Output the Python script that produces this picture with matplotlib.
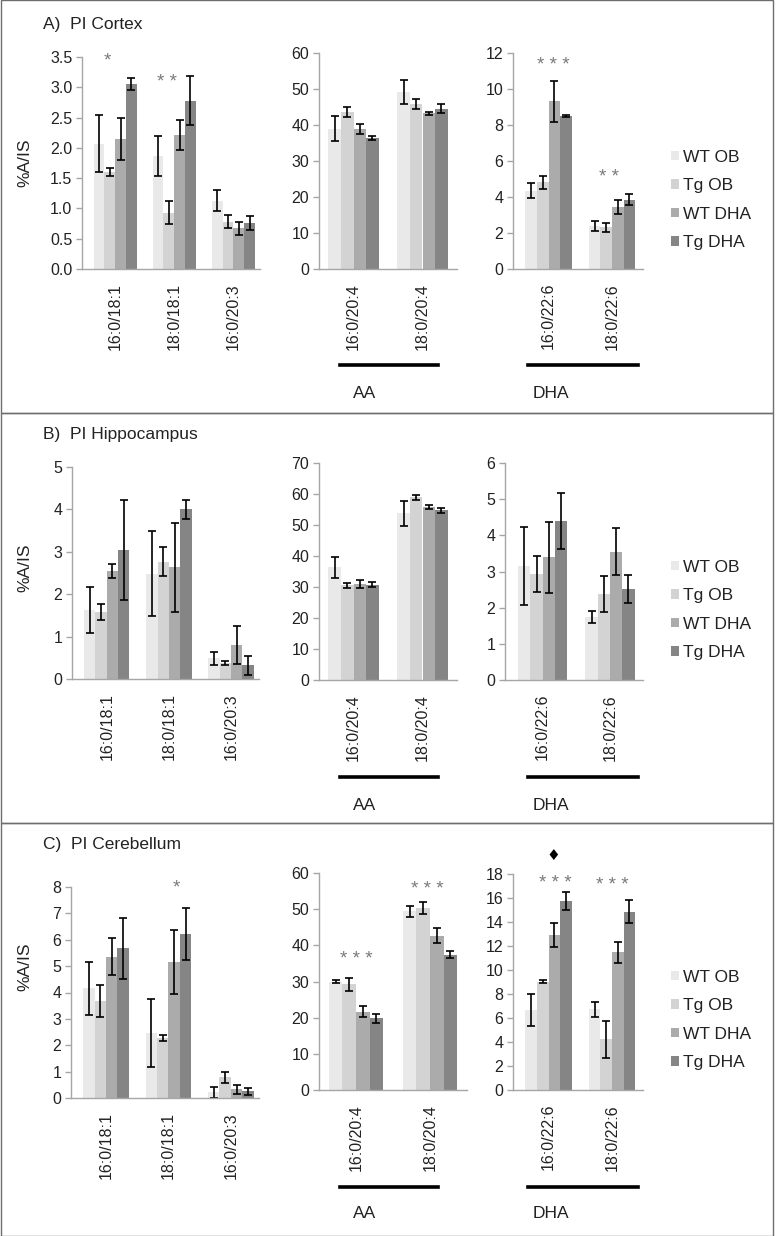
import matplotlib
matplotlib.use("Agg")
import matplotlib.pyplot as plt
import numpy as np
from matplotlib.lines import Line2D
from matplotlib.patches import Rectangle, Patch

plt.rcParams['font.family'] = ['Liberation Sans', 'DejaVu Sans']

W, H = 776, 1236
fig = plt.figure(figsize=(W / 100, H / 100), dpi=100)

groups = ['WT OB', 'Tg OB', 'WT DHA', 'Tg DHA']
colors = ['#e9e9e9', '#d3d3d3', '#ababab', '#858585']

mono_labels = ['16:0/18:1', '18:0/18:1', '16:0/20:3']
aa_labels = ['16:0/20:4', '18:0/20:4']
dha_labels = ['16:0/22:6', '18:0/22:6']

# ---- A) PI Cortex ----  rows = groups (WT OB, Tg OB, WT DHA, Tg DHA)
cortex_mono = [[2.07, 1.86, 1.13], [1.60, 0.93, 0.78], [2.15, 2.21, 0.67], [3.05, 2.78, 0.76]]
cortex_mono_err = [[0.47, 0.33, 0.17], [0.07, 0.19, 0.11], [0.35, 0.25, 0.11], [0.10, 0.41, 0.11]]
cortex_aa = [[39.0, 49.2], [43.7, 45.8], [38.9, 43.2], [36.4, 44.5]]
cortex_aa_err = [[3.5, 3.3], [1.4, 1.3], [1.5, 0.5], [0.6, 1.2]]
cortex_dha = [[4.35, 2.37], [4.81, 2.33], [9.31, 3.43], [8.48, 3.85]]
cortex_dha_err = [[0.40, 0.27], [0.35, 0.25], [1.15, 0.40], [0.05, 0.30]]

# ---- B) PI Hippocampus ----
hippo_mono = [[1.63, 2.48, 0.49], [1.58, 2.77, 0.38], [2.55, 2.63, 0.81], [3.04, 4.00, 0.32]]
hippo_mono_err = [[0.55, 1.00, 0.15], [0.20, 0.34, 0.05], [0.16, 1.06, 0.45], [1.17, 0.23, 0.22]]
hippo_aa = [[36.4, 53.8], [30.5, 59.0], [30.9, 55.8], [30.8, 54.7]]
hippo_aa_err = [[3.4, 4.1], [0.9, 0.8], [1.3, 0.5], [0.8, 0.8]]
hippo_dha = [[3.14, 1.74], [2.93, 2.38], [3.39, 3.55], [4.39, 2.52]]
hippo_dha_err = [[1.08, 0.16], [0.51, 0.50], [0.98, 0.66], [0.77, 0.38]]

# ---- C) PI Cerebellum ----
cereb_mono = [[4.16, 2.46, 0.21], [3.68, 2.27, 0.78], [5.35, 5.16, 0.34], [5.67, 6.21, 0.25]]
cereb_mono_err = [[1.01, 1.28, 0.20], [0.59, 0.12, 0.20], [0.70, 1.22, 0.17], [1.17, 0.98, 0.14]]
cereb_aa = [[30.0, 49.4], [29.3, 50.3], [21.7, 42.7], [19.8, 37.4]]
cereb_aa_err = [[0.3, 1.6], [1.8, 1.6], [1.6, 2.1], [1.2, 1.0]]
cereb_dha = [[6.67, 6.72], [9.03, 4.22], [12.92, 11.47], [15.75, 14.86]]
cereb_dha_err = [[1.33, 0.65], [0.10, 1.54], [1.03, 0.90], [0.72, 0.97]]

AXIS_GRAY = '#a6a6a6'
TEXT = '#222222'
FS_TICK = 11.5
FS_XT = 11.5
FS_LEG = 12.5
FS_TITLE = 12.5


def add_ax(x0, x1, y0, y1):
    return fig.add_axes([x0 / W, 1 - y1 / H, (x1 - x0) / W, (y1 - y0) / H])


def draw(ax, cats, vals, errs, ymax, step, fmt, xlim):
    n = len(cats)
    x = np.arange(n)
    w = 0.73 / 4
    for g in range(4):
        ax.bar(x + (g - 1.5) * w, vals[g], w, color=colors[g], yerr=errs[g],
               error_kw=dict(ecolor='black', elinewidth=1.2, capsize=3.2, capthick=1.2),
               zorder=2)
    ax.set_xlim(*xlim)
    ax.set_ylim(0, ymax)
    ticks = np.arange(0, ymax + step / 2, step)
    ax.set_yticks(ticks)
    ax.set_yticklabels([fmt.format(t) for t in ticks])
    ax.set_xticks(x)
    ax.set_xticklabels(cats, rotation=90)
    for s in ['top', 'right']:
        ax.spines[s].set_visible(False)
    for s in ['left', 'bottom']:
        ax.spines[s].set_color(AXIS_GRAY)
        ax.spines[s].set_linewidth(1.0)
    ax.tick_params(axis='y', length=4, width=1, color=AXIS_GRAY, labelsize=FS_TICK,
                   labelcolor=TEXT, pad=3)
    ax.tick_params(axis='x', length=0, labelsize=FS_XT, labelcolor=TEXT, pad=10)
    ax.patch.set_alpha(0)


def stars(ax, x, y, s, size=13.5):
    ax.text(x, y, s, ha='center', va='center', fontsize=size, color='#7a7a7a')


panels = [
    dict(title='A)  PI Cortex', ty=25, top=0, bottom=413, ylab_y=163,
         boxes=[(82, 260, 57, 269), (319, 457, 53, 269), (513, 643, 53, 269)],
         data=[(cortex_mono, cortex_mono_err, 3.5, 0.5, '{:.1f}'),
               (cortex_aa, cortex_aa_err, 60, 10, '{:.0f}'),
               (cortex_dha, cortex_dha_err, 12, 2, '{:.0f}')],
         line_y=365, text_y=393, leg_y=200),
    dict(title='B)  PI Hippocampus', ty=435, top=413, bottom=823, ylab_y=568,
         boxes=[(72, 259, 467, 679), (319, 457, 463, 680), (505, 643, 463, 680)],
         data=[(hippo_mono, hippo_mono_err, 5, 1, '{:.0f}'),
               (hippo_aa, hippo_aa_err, 70, 10, '{:.0f}'),
               (hippo_dha, hippo_dha_err, 6, 1, '{:.0f}')],
         line_y=777, text_y=805, leg_y=610),
    dict(title='C)  PI Cerebellum', ty=845, top=823, bottom=1236, ylab_y=967,
         boxes=[(71, 259, 887, 1098), (319, 467, 873, 1090), (513, 643, 874, 1090)],
         data=[(cereb_mono, cereb_mono_err, 8, 1, '{:.0f}'),
               (cereb_aa, cereb_aa_err, 60, 10, '{:.0f}'),
               (cereb_dha, cereb_dha_err, 18, 2, '{:.0f}')],
         line_y=1187, text_y=1214, leg_y=1020),
]

cat_sets = [mono_labels, aa_labels, dha_labels]
xlims = [(-0.56, 2.45), (-0.5, 1.5), (-0.56, 1.49)]

all_axes = []
for p in panels:
    axs = []
    for box, (vals, errs, ymax, step, fmt), cats, xl in zip(p['boxes'], p['data'], cat_sets, xlims):
        ax = add_ax(*box)
        draw(ax, cats, vals, errs, ymax, step, fmt, xl)
        axs.append(ax)
    all_axes.append(axs)
    # panel frame
    fig.patches.append(Rectangle((1 / W, 1 - p['bottom'] / H), 772 / W, (p['bottom'] - p['top']) / H,
                                 transform=fig.transFigure, fill=False, ec='#6e6e6e', lw=1.0))
    fig.text(43 / W, 1 - p['ty'] / H, p['title'], ha='left', va='center', fontsize=FS_TITLE, color=TEXT)
    fig.text(25 / W, 1 - p['ylab_y'] / H, '%A/IS', rotation=90, ha='center', va='center',
             fontsize=12.5, color=TEXT)
    # AA / DHA brackets
    ly = 1 - p['line_y'] / H
    fig.lines.append(Line2D([340 / W, 438 / W], [ly, ly], transform=fig.transFigure, color='black', lw=2.6))
    fig.lines.append(Line2D([528 / W, 638 / W], [ly, ly], transform=fig.transFigure, color='black', lw=2.6))
    fig.text(365 / W, 1 - p['text_y'] / H, 'AA', ha='center', va='center', fontsize=FS_TITLE, color=TEXT)
    fig.text(551 / W, 1 - p['text_y'] / H, 'DHA', ha='center', va='center', fontsize=FS_TITLE, color=TEXT)
    # legend
    handles = [Patch(facecolor=c, edgecolor='none') for c in colors]
    fig.legend(handles, groups, loc='center left', bbox_to_anchor=(671 / W, 1 - p['leg_y'] / H),
               frameon=False, fontsize=FS_LEG, handlelength=0.48, handleheight=0.48,
               handletextpad=0.2, labelspacing=0.78, borderpad=0, borderaxespad=0,
               labelcolor=TEXT)

# significance marks
A, B, C = all_axes
stars(A[0], -0.13, 3.43, '*')
stars(A[0], 0.87, 3.08, '* *')
stars(A[2], 0.08, 11.3, '* * *')
stars(A[2], 0.95, 5.1, '* *')
stars(C[0], 1.12, 7.95, '*')
stars(C[1], 0.0, 36.0, '* * *')
stars(C[1], 0.97, 55.4, '* * *')
stars(C[2], 0.1, 17.2, '* * *')
stars(C[2], 1.0, 17.0, '* * *')
C[2].text(0.08, 19.5, '\u2666', ha='center', va='center', fontsize=11, color='black',
          clip_on=False, family=['DejaVu Sans'])

fig.savefig('out.png', dpi=100)
